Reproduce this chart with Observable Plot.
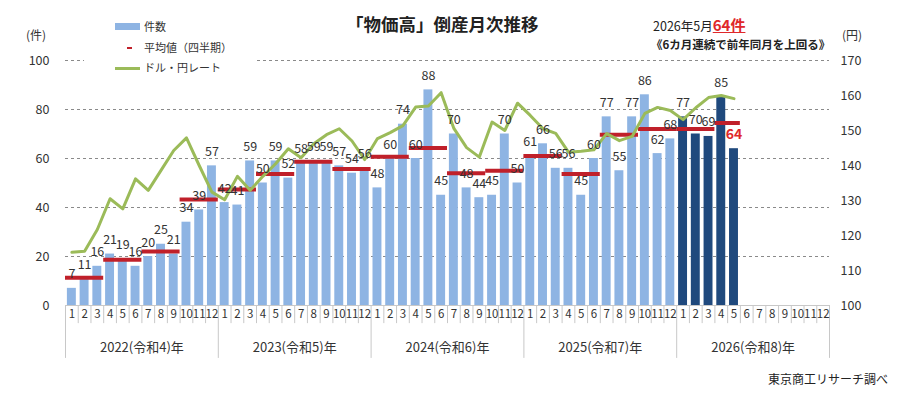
<!DOCTYPE html>
<html>
<head>
<meta charset="utf-8">
<script src="https://cdn.jsdelivr.net/npm/d3@7"></script>
<script src="https://cdn.jsdelivr.net/npm/@observablehq/plot@0.6"></script>
<style>
  html, body { margin: 0; padding: 0; background: #fff; }
  #wrap { position: relative; width: 902px; height: 401px; overflow: hidden;
          font-family: "Noto Sans CJK JP", "Noto Sans", sans-serif; color: #222; }
  #wrap svg { position: absolute; left: 0; top: 0; }
  .ov { position: absolute; line-height: 1; white-space: nowrap; }
</style>
</head>
<body>
<div id="wrap"></div>
<script>
// ---------------- data ----------------
const yearLabels = ["2022(令和4)年", "2023(令和5)年", "2024(令和6)年", "2025(令和7)年", "2026(令和8)年"];
const monthLabels = ["1","2","3","4","5","6","7","8","9","10","11","12"];

// 件数 (monthly bankruptcies), Jan 2022 – May 2026
const counts2022 = [7, 11, 16, 21, 19, 16, 20, 25, 21, 34, 39, 57];
const counts2023 = [42, 41, 59, 50, 59, 52, 58, 59, 59, 57, 54, 56];
const counts2024 = [48, 60, 74, 60, 88, 45, 70, 48, 44, 45, 70, 50];
const counts2025 = [61, 66, 56, 56, 45, 60, 77, 55, 77, 86, 62, 68];
const counts2026 = [77, 70, 69, 85, 64];

// ドル・円レート (円)
const yen2022 = [115.2, 115.5, 121.7, 130.5, 127.6, 136.2, 132.9, 138.6, 144.3, 147.9, 140.0, 132.4];
const yen2023 = [130.2, 136.9, 132.9, 136.9, 140.5, 144.8, 142.2, 146.2, 148.8, 150.5, 147.0, 141.7];
const yen2024 = [147.7, 149.4, 151.4, 156.7, 157.0, 160.8, 150.6, 145.1, 142.4, 152.4, 150.0, 157.8];
const yen2025 = [154.3, 150.5, 149.2, 143.8, 144.1, 144.5, 149.1, 147.1, 148.3, 154.9, 156.6, 155.7];
const yen2026 = [153.1, 156.5, 159.4, 160.0, 159.1];

// 平均値（四半期）
const quarterAvg    = [11.3, 18.7, 22.0, 43.3, 47.3, 53.7, 58.7, 55.7, 60.7, 64.3, 54.0, 55.0, 61.0, 53.7, 69.7, 72.0, 72.0, 74.5];
const quarterMonths = [3, 3, 3, 3, 3, 3, 3, 3, 3, 3, 3, 3, 3, 3, 3, 3, 3, 2];

const countTicks = [0, 20, 40, 60, 80, 100];
const yenTicks = [100, 110, 120, 130, 140, 150, 160, 170];
const gridTicks = [20, 40, 60, 80, 100];

// ---------------- tables ----------------
const counts = [...counts2022, ...counts2023, ...counts2024, ...counts2025, ...counts2026];
const yen = [...yen2022, ...yen2023, ...yen2024, ...yen2025, ...yen2026];
const nMonths = yearLabels.length * 12;
const yenMin = 100, yenMax = 170;
const toY = v => (v - yenMin) * 100 / (yenMax - yenMin);

const data = counts.map((c, i) => ({ i, c, yen: yen[i], current: i >= 48 }));
let start = 0;
const quarters = quarterAvg.map((v, k) => {
  const q = { x1: start, x2: start + quarterMonths[k], avg: v };
  start += quarterMonths[k];
  return q;
});
const allMonths = d3.range(nMonths);
const monthSeps = d3.range(nMonths + 1).filter(k => k % 12 !== 0);
const yearSeps = d3.range(0, nMonths + 1, 12);
const lastIdx = data.length - 1;

const LIGHT = "#8eb4e3", DARK = "#1f497d", RED = "#c0202a", GREEN = "#9bbb59";

const chart = Plot.plot({
  width: 902,
  height: 401,
  marginLeft: 65,
  marginRight: 73,
  marginTop: 60,
  marginBottom: 96,
  x: { type: "linear", domain: [0, nMonths], axis: null },
  y: { domain: [0, 100], axis: null },
  style: { fontFamily: "'Noto Sans CJK JP', 'Noto Sans', sans-serif", fontSize: "12px", color: "#333", background: "transparent" },
  marks: [
    Plot.ruleY(gridTicks, { stroke: "#8a8a8a", strokeDasharray: "3,3", strokeWidth: 1 }),
    Plot.ruleY([0], { stroke: "#c8c8c8" }),
    Plot.rectY(data, {
      x1: d => d.i, x2: d => d.i + 1, y: "c",
      fill: d => d.current ? DARK : LIGHT,
      insetLeft: 1.9, insetRight: 1.9
    }),
    Plot.ruleY(quarters, { y: "avg", x1: "x1", x2: "x2", stroke: RED, strokeWidth: 4 }),
    Plot.line(data, { x: d => d.i + 0.5, y: d => toY(d.yen), stroke: GREEN, strokeWidth: 3, curve: "linear" }),
    Plot.text(data.filter(d => d.i !== lastIdx), {
      x: d => d.i + 0.5, y: "c", text: d => String(d.c), dy: -14, fontSize: 12.5, fill: "#333"
    }),
    Plot.text(data.filter(d => d.i === lastIdx), {
      x: d => d.i + 0.5, y: "c", text: d => String(d.c), dy: -14, fontSize: 14, fontWeight: "bold", fill: "#e0282a"
    }),
    // left axis
    Plot.axisY(countTicks, { anchor: "left", tickSize: 0, tickPadding: 16, label: null, fontSize: 12.5, fill: "#333" }),
    // right axis (yen)
    Plot.axisY(yenTicks.map(toY), {
      anchor: "right", tickSize: 0, tickPadding: 11, label: null, fontSize: 12.5, fill: "#333",
      tickFormat: d => String(Math.round(yenMin + d * (yenMax - yenMin) / 100))
    }),
    // category axis: month separators, year separators
    Plot.ruleX(monthSeps, { x: d => d, y1: 0, y2: -7.4, stroke: "#c8c8c8" }),
    Plot.ruleX(yearSeps, { x: d => d, y1: 0, y2: -21.6, stroke: "#c8c8c8" }),
    Plot.text(allMonths, {
      x: d => d + 0.5, y: 0, dy: 9, text: d => monthLabels[d % 12], fontSize: 11.5, fill: "#333"
    }),
    Plot.text(yearLabels, {
      x: (d, k) => k * 12 + 6, y: 0, dy: 42, text: d => d, fontSize: 13, fill: "#333"
    })
  ]
});

const wrap = document.getElementById("wrap");
wrap.appendChild(chart);

function ov(html, style) {
  const el = document.createElement("div");
  el.className = "ov";
  el.innerHTML = html;
  Object.assign(el.style, style);
  wrap.appendChild(el);
  return el;
}

// title
ov("「物価高」倒産月次推移", { left: "346px", top: "15px", fontSize: "17.5px", fontWeight: "bold", color: "#222" });
// annotation
ov('2026年5月<span style="color:#e0282a;font-weight:bold;font-size:15px;text-decoration:underline;">64件</span>',
   { left: "653px", top: "17px", fontSize: "12.5px", color: "#222" });
ov("《6カ月連続で前年同月を上回る》", { left: "651px", top: "39px", fontSize: "11.5px", fontWeight: "bold", color: "#222" });
// axis unit labels
ov("(件)", { left: "26px", top: "29px", fontSize: "12px", color: "#333" });
ov("(円)", { left: "842px", top: "29px", fontSize: "12px", color: "#333" });
// legend
const lg = ov("", { left: "84px", top: "14px", width: "170px", height: "64px", background: "#fff" });
ov("", { left: "115px", top: "23px", width: "25px", height: "7px", background: LIGHT });
ov("件数", { left: "144px", top: "21px", fontSize: "11px", color: "#333" });
ov("", { left: "127px", top: "47px", width: "5px", height: "2px", background: RED });
ov("平均値（四半期）", { left: "144px", top: "42px", fontSize: "11px", color: "#333" });
ov("", { left: "115px", top: "67px", width: "25px", height: "3px", background: GREEN });
ov("ドル・円レート", { left: "144px", top: "62px", fontSize: "11px", color: "#333" });
// source
ov("東京商工リサーチ調べ", { left: "768px", top: "373px", fontSize: "12px", color: "#222" });
</script>
</body>
</html>
